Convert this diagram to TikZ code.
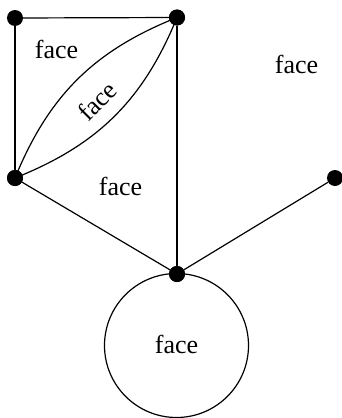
\documentclass[tikz,border=0pt]{standalone}
\usepackage{fontspec}
\setmainfont{Liberation Serif}
\begin{document}
\begin{tikzpicture}[x=1pt,y=-1pt,
  dot/.style={circle,fill=black,inner sep=0pt,minimum size=16pt},
  edge/.style={line width=1.2pt},
  lbl/.style={font=\fontsize{26}{30}\selectfont,inner sep=0pt}]
\useasboundingbox (0,0) rectangle (341,418);
\node[dot] (A) at (15,18) {};
\node[dot] (B) at (177,17.5) {};
\node[dot] (C) at (15,178) {};
\node[dot] (D) at (177,274) {};
\node[dot] (E) at (335,178) {};
\node[circle,draw,line width=1.2pt,inner sep=0pt,minimum size=144pt] (loop) at (176.5,345.5) {};
\draw[edge] (A) -- (B);
\draw[edge] (A) -- (C);
\draw[edge] (B) -- (D);
\draw[edge] (C) -- (D);
\draw[edge] (D) -- (E);
\draw[edge] (C.center) to[bend left=23] (B.center);
\draw[edge] (C.center) to[bend right=23] (B.center);
\node[dot] at (C) {};
\node[dot] at (B) {};
\node[dot] at (D) {};
\node[lbl,anchor=base] (f1) at (56.5,58) {face};
\node[lbl,anchor=base] (f2) at (296.5,73) {face};
\node[lbl,anchor=base] (f3) at (120.5,195) {face};
\node[lbl,anchor=base] (f4) at (176.5,353) {face};
\node[lbl,rotate=45] (f5) at (97,101) {face};
\end{tikzpicture}
\end{document}
